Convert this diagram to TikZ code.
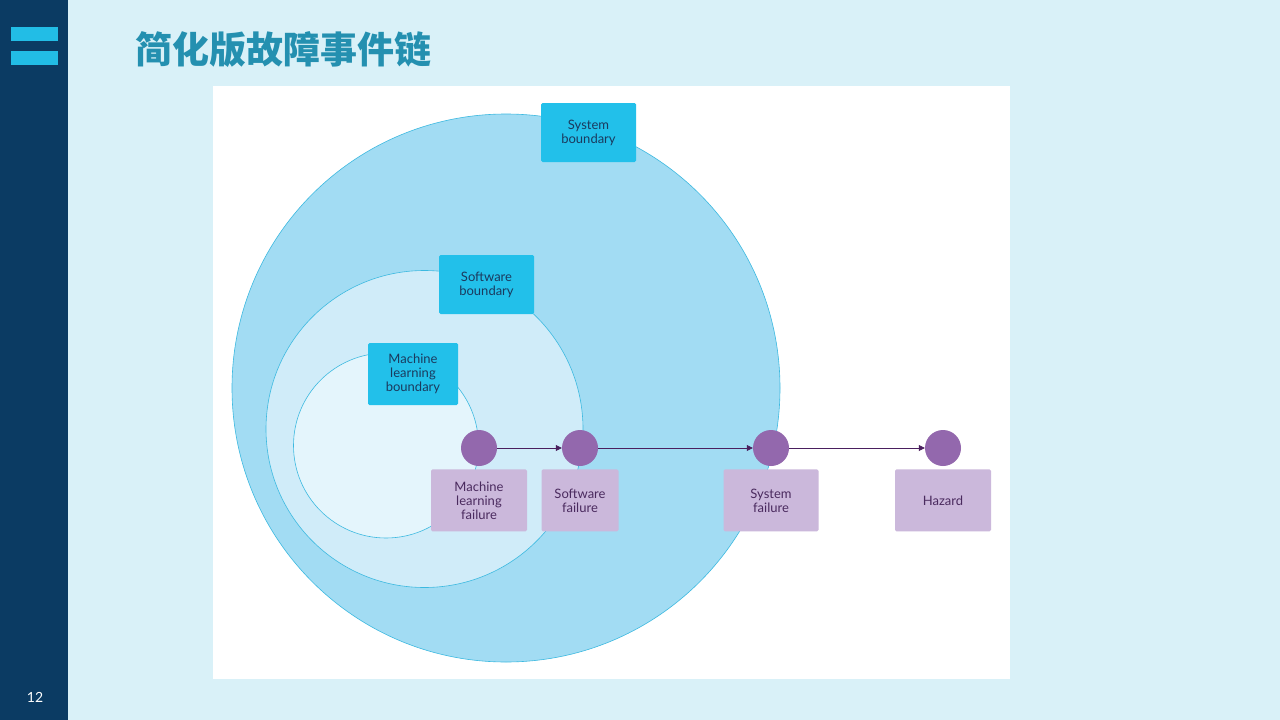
\documentclass[tikz,border=0pt]{standalone}
\usepackage{fontspec}
\setmainfont{Lato}
\newfontfamily\cjkfont{Noto Sans CJK SC}
\usepackage{xcolor}
\usetikzlibrary{arrows.meta,positioning}

\definecolor{pagebg}{HTML}{D9F1F8}
\definecolor{navy}{HTML}{0B3B63}
\definecolor{barblue}{HTML}{22BDE6}
\definecolor{titleblue}{HTML}{2490B0}
\definecolor{sysfill}{HTML}{A2DCF3}
\definecolor{swfill}{HTML}{D0ECF9}
\definecolor{mlfill}{HTML}{E4F5FC}
\definecolor{ringline}{HTML}{3CB9E0}
\definecolor{boundfill}{HTML}{22C0EA}
\definecolor{boundtext}{HTML}{1B3A5E}
\definecolor{dotpurple}{HTML}{9368AD}
\definecolor{labelfill}{HTML}{CBB8DB}
\definecolor{labeltext}{HTML}{4A2A5E}
\definecolor{arrowpurple}{HTML}{4A1F5E}

\begin{document}
\begin{tikzpicture}[x=1pt, y=-1pt, >={Triangle[length=6pt,width=6pt]}]
  % Styles
  \tikzstyle{ring} = [draw=ringline, line width=0.6pt]
  \tikzstyle{boundbox} = [rectangle, fill=boundfill, rounded corners=1.5pt, text=boundtext, align=center, font=\fontsize{13}{14}\selectfont, inner sep=0pt]
  \tikzstyle{event} = [circle, fill=dotpurple, minimum size=36pt, inner sep=0pt]
  \tikzstyle{eventlabel} = [rectangle, fill=labelfill, rounded corners=1.5pt, text=labeltext, align=center, font=\fontsize{13}{14}\selectfont, minimum height=62pt, inner sep=0pt]
  \tikzstyle{chain} = [->, draw=arrowpurple, fill=arrowpurple, line width=0.7pt]

  % Page
  \useasboundingbox (0,0) rectangle (1280,720);
  \fill[pagebg] (0,0) rectangle (1280,720);
  \fill[navy] (0,0) rectangle (68,720);
  \fill[barblue] (11,27) rectangle (58,41);
  \fill[barblue] (11,51) rectangle (58,65);
  \node[anchor=west, text=titleblue, font=\cjkfont\bfseries\fontsize{37}{39}\selectfont, inner sep=0pt] (title) at (135,50) {简化版故障事件链};
  \node[text=white, font=\fontsize{14}{16}\selectfont] (pagenum) at (35,697) {12};
  \fill[white] (213,86) rectangle (1010,679);

  % Boundaries
  \draw[ring, fill=sysfill] (506,388) circle (274);
  \draw[ring, fill=swfill] (424.5,429) circle (158.5);
  \draw[ring, fill=mlfill] (386,445.5) circle (92.5);

  \node[boundbox, minimum width=95pt, minimum height=59pt] (sysbound) at (588.5,132.5) {System\\boundary};
  \node[boundbox, minimum width=95pt, minimum height=59pt] (swbound) at (486.5,284.5) {Software\\boundary};
  \node[boundbox, minimum width=90pt, minimum height=62pt] (mlbound) at (413,374) {Machine\\learning\\boundary};

  % Events
  \node[event] (mlfail) at (479,448) {};
  \node[event] (swfail) at (580,448) {};
  \node[event] (sysfail) at (771,448) {};
  \node[event] (hazard) at (943,448) {};

  \node[eventlabel, minimum width=96pt, below=3pt of mlfail] (mllabel) {Machine\\learning\\failure};
  \node[eventlabel, minimum width=77pt, below=3pt of swfail] (swlabel) {Software\\failure};
  \node[eventlabel, minimum width=95pt, below=3pt of sysfail] (syslabel) {System\\failure};
  \node[eventlabel, minimum width=96pt, below=3pt of hazard] (hazlabel) {Hazard};

  % Chain
  \draw[chain] (mlfail) -- (swfail);
  \draw[chain] (swfail) -- (sysfail);
  \draw[chain] (sysfail) -- (hazard);

\end{tikzpicture}
\end{document}
